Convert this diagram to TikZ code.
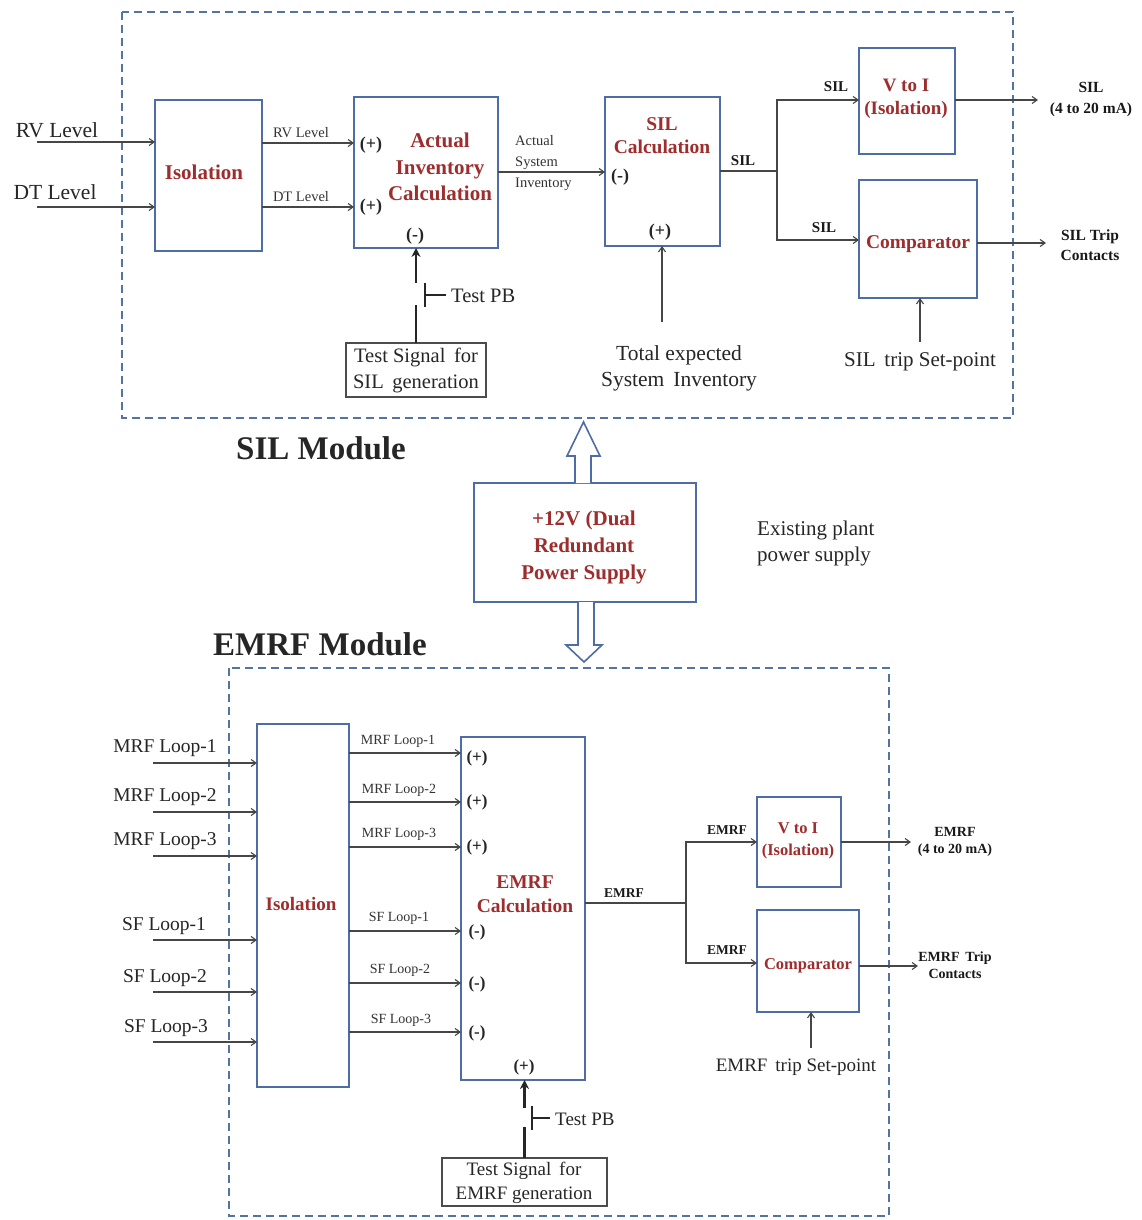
\documentclass[tikz,border=0pt]{standalone}
\usepackage{fontspec}
\setmainfont{Liberation Serif}
\usetikzlibrary{arrows.meta,fit,calc}
\definecolor{boxblue}{RGB}{78,108,165}
\definecolor{dashblue}{RGB}{85,115,160}
\definecolor{txtred}{RGB}{158,45,45}
\definecolor{wirecol}{RGB}{70,70,70}
\newcommand\fsz[2]{\fontsize{#1}{#2}\selectfont}
\begin{document}
\begin{tikzpicture}[x=1pt,y=-1pt,
  blk/.style={draw=boxblue, line width=1.6pt, inner sep=0pt, outer sep=0pt},
  tsbox/.style={draw=gray!60!black, line width=1.3pt, inner sep=0pt, outer sep=0pt},
  wire/.style={draw=wirecol, line width=1.1pt, -{Straight Barb[length=5pt,width=7pt]}},
  plainw/.style={draw=wirecol, line width=1.1pt},
  pbl/.style={draw=black!85, line width=2.6pt},
  pba/.style={draw=black!85, line width=2.6pt, -{Stealth[length=9pt,width=9pt]}},
  module/.style={draw=dashblue, line width=1.8pt, dash pattern=on 8pt off 5pt},
  hol/.style={draw=boxblue, line width=1.6pt, fill=white, line join=miter},
  redt/.style={text=txtred, align=center, inner sep=0pt, font=\bfseries},
  txt/.style={text=black!85, inner sep=0pt, align=center},
  sgn/.style={text=black!85, inner sep=0pt, font=\fsz{18}{20}\bfseries},
  wl/.style={text=black!80, inner sep=0pt, font=\fsz{14.5}{17}},
  wlb/.style={text=black!90, inner sep=0pt, font=\fsz{14}{17}\bfseries, align=center}
]
\fill[white] (0,0) rectangle (1141,1220);
\useasboundingbox (0,0) rectangle (1141,1220);

% ================= SIL MODULE =================
\draw[module] (122,12) rectangle (1013,418);

\node[blk, fit={(155,100) (262,251)}] (iso1) {};
\node[redt, font=\fsz{21}{25}\bfseries] (iso1t) at (204,172) {Isolation};

\node[blk, fit={(354,97) (498,248)}] (aic) {};
\node[redt, font=\fsz{21}{26.5}\bfseries] (aict) at (440,167) {Actual\\Inventory\\Calculation};
\node[sgn] (aicp1) at (371,145) {(+)};
\node[sgn] (aicp2) at (371,207) {(+)};
\node[sgn] (aicm) at (415,236) {(-)};

\node[blk, fit={(605,97) (720,246)}] (silc) {};
\node[redt, font=\fsz{19.5}{23}\bfseries] (silct) at (662,136) {SIL\\Calculation};
\node[sgn] (silcm) at (620,177) {(-)};
\node[sgn] (silcp) at (660,232) {(+)};

\node[blk, fit={(859,48) (955,154)}] (vti) {};
\node[redt, font=\fsz{19}{23}\bfseries] (vtit) at (906,99) {V to I\\(Isolation)};

\node[blk, fit={(859,180) (977,298)}] (cmp) {};
\node[redt, font=\fsz{19.5}{23}\bfseries] (cmpt) at (918,244) {Comparator};

\node[tsbox, fit={(346,343) (486,397)}] (tsig) {};
\node[txt, font=\fsz{20.5}{26}] (tsigt) at (416,370) {Test Signal\, for\\SIL\, generation};

% inputs
\coordinate (rvin) at (37,142);
\coordinate (dtin) at (37,207);
\draw[wire] (rvin) -- (iso1.west |- rvin);
\draw[wire] (dtin) -- (iso1.west |- dtin);
\node[txt, font=\fsz{21.5}{24}] (rvl) at (57,130) {RV Level};
\node[txt, font=\fsz{21.5}{24}] (dtl) at (55,192) {DT Level};

% isolation -> actual inventory
\draw[wire] (iso1.east |- 0,143) -- (aic.west |- 0,143);
\draw[wire] (iso1.east |- 0,207) -- (aic.west |- 0,207);
\node[wl] (rvl2) at (301,133) {RV Level};
\node[wl] (dtl2) at (301,197) {DT Level};

% actual -> SIL calc
\draw[wire] (aic.east |- 0,172) -- (silc.west |- 0,172);
\node[wl, align=left, anchor=west, font=\fsz{14.5}{21}] (asi) at (515,163) {Actual\\System\\Inventory};

% SIL output branch
\coordinate (br1) at (777,171);
\draw[plainw] (silc.east |- br1) -- (br1);
\draw[wire] (br1) |- (vti.west |- 0,100);
\draw[wire] (br1) |- (cmp.west |- 0,240);
\node[wlb, font=\fsz{15}{17}\bfseries] (sil1) at (743,161) {SIL};
\node[wlb, font=\fsz{15}{17}\bfseries] (sil2) at (836,87) {SIL};
\node[wlb, font=\fsz{15}{17}\bfseries] (sil3) at (824,228) {SIL};

% outputs
\coordinate (silout) at (1038,100);
\coordinate (tripout) at (1046,243);
\draw[wire] (vti.east |- silout) -- (silout);
\draw[wire] (cmp.east |- tripout) -- (tripout);
\node[wlb, font=\fsz{15.5}{21}\bfseries] (silo) at (1091,100) {SIL\\(4 to 20 mA)};
\node[wlb, font=\fsz{15.5}{20}\bfseries] (tripo) at (1090,245) {SIL Trip\\Contacts};

% set-point and total expected
\coordinate (tot) at (662,322);
\draw[wire] (tot) -- (silc.south -| tot);
\node[txt, font=\fsz{21.5}{26}] (tott) at (679,368) {Total expected\\System\, Inventory};
\coordinate (sp1) at (920,342);
\draw[wire] (sp1) -- (cmp.south -| sp1);
\node[txt, font=\fsz{21}{24}] (sp1t) at (920,362) {SIL\, trip Set-point};

% test push button
\draw[pbl] (tsig.north) -- (tsig.north |- 0,305);
\draw[pba] (tsig.north |- 0,283) -- (aic.south -| tsig.north);
\draw[pbl] (425,283) -- (425,307);
\draw[pbl] (425,295) -- (446,295);
\node[txt, font=\fsz{20.5}{24}, anchor=west] (tpb1) at (451,296) {Test PB};

\node[txt, font=\fsz{33}{36}\bfseries] (silmod) at (321,448) {SIL Module};

% ================= POWER SUPPLY =================
\node[blk, fit={(474,483) (696,602)}] (ps) {};
\node[redt, font=\fsz{21}{27}\bfseries] (pst) at (584,547) {+12V (Dual\\Redundant\\Power Supply};
\draw[hol] (575,483) -- (575,456) -- (567,456) -- (583.5,422) -- (600,456) -- (591,456) -- (591,483);
\draw[hol] (578,602) -- (578,645) -- (566,645) -- (584,662) -- (602,645) -- (594,645) -- (594,602);
\node[txt, font=\fsz{21}{26}, align=left, anchor=west] (exist) at (757,543) {Existing plant\\power supply};

\node[txt, font=\fsz{33}{36}\bfseries] (emod) at (320,644) {EMRF Module};

% ================= EMRF MODULE =================
\draw[module] (229,668) rectangle (889,1216);

\node[blk, fit={(257,724) (349,1087)}] (iso2) {};
\node[redt, font=\fsz{19}{23}\bfseries] (iso2t) at (301,904) {Isolation};

\node[blk, fit={(461,737) (585,1080)}] (emc) {};
\node[redt, font=\fsz{19.5}{24}\bfseries] (emct) at (525,894) {EMRF\\Calculation};
\node[sgn, font=\fsz{17}{20}\bfseries] (e1) at (477,758) {(+)};
\node[sgn, font=\fsz{17}{20}\bfseries] (e2) at (477,802) {(+)};
\node[sgn, font=\fsz{17}{20}\bfseries] (e3) at (477,847) {(+)};
\node[sgn, font=\fsz{17}{20}\bfseries] (e4) at (477,932) {(-)};
\node[sgn, font=\fsz{17}{20}\bfseries] (e5) at (477,984) {(-)};
\node[sgn, font=\fsz{17}{20}\bfseries] (e6) at (477,1033) {(-)};
\node[sgn, font=\fsz{17}{20}\bfseries] (e7) at (524,1067) {(+)};

\node[blk, fit={(757,797) (841,887)}] (vti2) {};
\node[redt, font=\fsz{16.5}{22}\bfseries] (vti2t) at (798,841) {V to I\\(Isolation)};

\node[blk, fit={(757,910) (859,1012)}] (cmp2) {};
\node[redt, font=\fsz{16.5}{20}\bfseries] (cmp2t) at (808,966) {Comparator};

\node[tsbox, fit={(442,1158) (607,1206)}] (tsig2) {};
\node[txt, font=\fsz{19}{24}] (tsig2t) at (524,1183) {Test Signal\, for\\EMRF generation};

% inputs
\coordinate (m1) at (153,763);
\coordinate (m2) at (153,812);
\coordinate (m3) at (153,856);
\coordinate (s1) at (153,940);
\coordinate (s2) at (153,992);
\coordinate (s3) at (153,1042);
\draw[wire] (m1) -- (iso2.west |- m1);
\draw[wire] (m2) -- (iso2.west |- m2);
\draw[wire] (m3) -- (iso2.west |- m3);
\draw[wire] (s1) -- (iso2.west |- s1);
\draw[wire] (s2) -- (iso2.west |- s2);
\draw[wire] (s3) -- (iso2.west |- s3);
\node[txt, font=\fsz{19.5}{22}] (m1t) at (165,748) {MRF Loop-1};
\node[txt, font=\fsz{19.5}{22}] (m2t) at (165,797) {MRF Loop-2};
\node[txt, font=\fsz{19.5}{22}] (m3t) at (165,841) {MRF Loop-3};
\node[txt, font=\fsz{19.5}{22}] (s1t) at (164,926) {SF Loop-1};
\node[txt, font=\fsz{19.5}{22}] (s2t) at (165,978) {SF Loop-2};
\node[txt, font=\fsz{19.5}{22}] (s3t) at (166,1028) {SF Loop-3};

% isolation -> EMRF calc
\draw[wire] (iso2.east |- 0,753) -- (emc.west |- 0,753);
\draw[wire] (iso2.east |- 0,802) -- (emc.west |- 0,802);
\draw[wire] (iso2.east |- 0,847) -- (emc.west |- 0,847);
\draw[wire] (iso2.east |- 0,931) -- (emc.west |- 0,931);
\draw[wire] (iso2.east |- 0,983) -- (emc.west |- 0,983);
\draw[wire] (iso2.east |- 0,1032) -- (emc.west |- 0,1032);
\node[wl, font=\fsz{14}{17}] (om1) at (398,741) {MRF Loop-1};
\node[wl, font=\fsz{14}{17}] (om2) at (399,790) {MRF Loop-2};
\node[wl, font=\fsz{14}{17}] (om3) at (399,834) {MRF Loop-3};
\node[wl, font=\fsz{14}{17}] (os1) at (399,918) {SF Loop-1};
\node[wl, font=\fsz{14}{17}] (os2) at (400,970) {SF Loop-2};
\node[wl, font=\fsz{14}{17}] (os3) at (401,1020) {SF Loop-3};

% EMRF output branch
\coordinate (br2) at (686,903);
\draw[plainw] (emc.east |- br2) -- (br2);
\draw[wire] (br2) |- (vti2.west |- 0,842);
\draw[wire] (br2) |- (cmp2.west |- 0,963);
\node[wlb, font=\fsz{13.5}{16}\bfseries] (em1) at (624,893) {EMRF};
\node[wlb, font=\fsz{13.5}{16}\bfseries] (em2) at (727,830) {EMRF};
\node[wlb, font=\fsz{13.5}{16}\bfseries] (em3) at (727,950) {EMRF};

\coordinate (emout) at (911,842);
\coordinate (emtrip) at (918,966);
\draw[wire] (vti2.east |- emout) -- (emout);
\draw[wire] (cmp2.east |- emtrip) -- (emtrip);
\node[wlb, font=\fsz{14}{17}\bfseries] (emo) at (955,842) {EMRF\\(4 to 20 mA)};
\node[wlb, font=\fsz{14}{17}\bfseries] (emtr) at (955,965) {EMRF\, Trip\\Contacts};

\coordinate (sp2) at (811,1048);
\draw[wire] (sp2) -- (cmp2.south -| sp2);
\node[txt, font=\fsz{19}{22}] (sp2t) at (796,1067) {EMRF\, trip Set-point};

% test push button (bottom)
\draw[pbl] (tsig2.north) -- (tsig2.north |- 0,1127);
\draw[pba] (tsig2.north |- 0,1108) -- (emc.south -| tsig2.north);
\draw[pbl] (532,1106) -- (532,1130);
\draw[pbl] (532,1118) -- (550,1118);
\node[txt, font=\fsz{19}{22}, anchor=west] (tpb2) at (555,1119) {Test PB};

\end{tikzpicture}
\end{document}
